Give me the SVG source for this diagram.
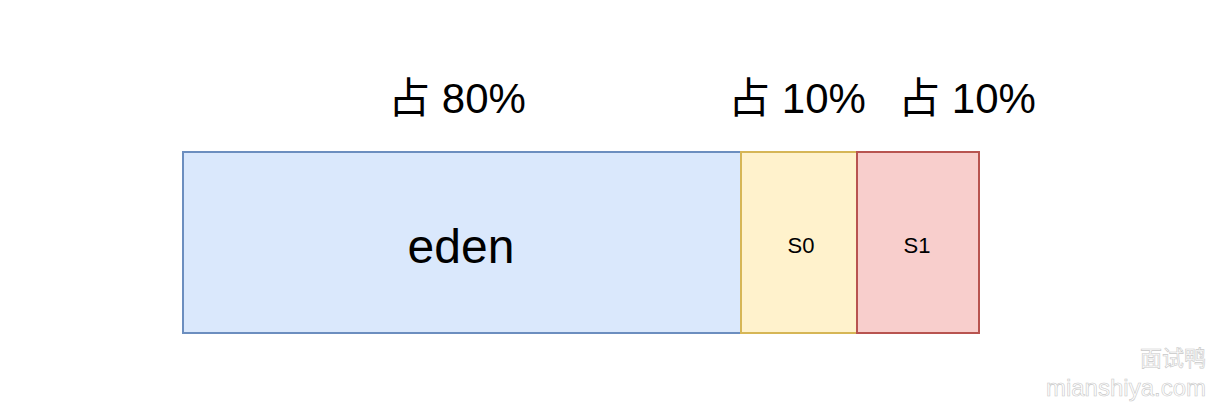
<svg xmlns="http://www.w3.org/2000/svg" width="1218" height="412" viewBox="0 0 1218 412">
<style>
.lbl{font-family:"Liberation Sans",Arial,"Noto Sans CJK SC",sans-serif;fill:#000;text-anchor:middle}
.big{font-size:42px}
.wm{font-family:"Liberation Sans","Noto Sans CJK SC",sans-serif;fill:#fff;stroke:#c8c8c8;stroke-width:0.6;text-anchor:end}
</style>
<rect width="1218" height="412" fill="#fff"/>
<g id="eden">
<rect x="183" y="152" width="558" height="181" fill="#dae8fc" stroke="#6c8ebf" stroke-width="2"/>
<text class="lbl" x="461" y="263" font-size="48">eden</text>
</g>
<g id="s0">
<rect x="741" y="152" width="116" height="181" fill="#fff2cc" stroke="#d6b656" stroke-width="2"/>
<text class="lbl" x="801" y="253" font-size="22">S0</text>
</g>
<g id="s1">
<rect x="857" y="152" width="122" height="181" fill="#f8cecc" stroke="#b85450" stroke-width="2"/>
<text class="lbl" x="917" y="253" font-size="22">S1</text>
</g>
<g id="labels">
<text class="lbl big" x="457" y="113">占 80%</text>
<text class="lbl big" x="797" y="113">占 10%</text>
<text class="lbl big" x="967" y="113">占 10%</text>
</g>
<g id="connectors"></g>
<g id="watermark">
<text class="wm" x="1206" y="366" font-size="22">面试鸭</text>
<text class="wm" x="1206" y="396" font-size="24">mianshiya.com</text>
</g>
</svg>
